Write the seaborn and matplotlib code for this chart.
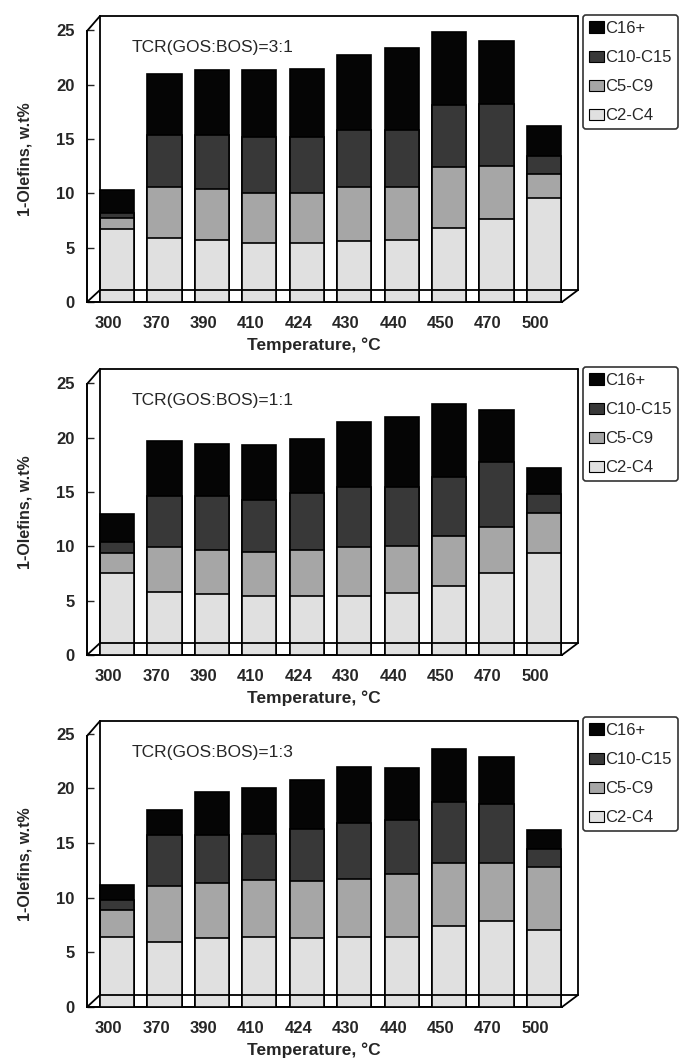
import matplotlib
matplotlib.use("Agg")
import matplotlib.pyplot as plt
import seaborn as sns
import numpy as np
from matplotlib.patches import Patch
from matplotlib.lines import Line2D

sns.set_style("white")
plt.rcParams['font.family'] = ['Liberation Sans', 'DejaVu Sans']

temps = ["300", "370", "390", "410", "424", "430", "440", "450", "470", "500"]
series_names = ["C16+", "C10-C15", "C5-C9", "C2-C4"]

# TCR(GOS:BOS)=3:1  (segment values, w.t%)
c2c4_31 = [6.7, 5.85, 5.7, 5.4, 5.4, 5.6, 5.7, 6.85, 7.65, 9.6]
c5c9_31 = [1.0, 4.7, 4.7, 4.6, 4.6, 5.0, 4.9, 5.55, 4.85, 2.2]
c10c15_31 = [0.5, 4.8, 4.95, 5.2, 5.2, 5.2, 5.2, 5.7, 5.7, 1.6]
c16_31 = [2.1, 5.65, 5.95, 6.1, 6.2, 6.9, 7.6, 6.7, 5.8, 2.8]

# TCR(GOS:BOS)=1:1
c2c4_11 = [7.5, 5.75, 5.6, 5.45, 5.45, 5.45, 5.7, 6.35, 7.5, 9.4]
c5c9_11 = [1.85, 4.15, 4.1, 4.0, 4.2, 4.45, 4.3, 4.6, 4.25, 3.7]
c10c15_11 = [1.05, 4.7, 4.9, 4.85, 5.25, 5.6, 5.5, 5.45, 6.05, 1.7]
c16_11 = [2.6, 5.1, 4.8, 5.0, 4.95, 5.9, 6.4, 6.7, 4.7, 2.4]

# TCR(GOS:BOS)=1:3
c2c4_13 = [6.4, 5.95, 6.3, 6.45, 6.3, 6.4, 6.45, 7.45, 7.9, 7.05]
c5c9_13 = [2.45, 5.15, 5.05, 5.15, 5.2, 5.35, 5.7, 5.75, 5.3, 5.75]
c10c15_13 = [0.9, 4.6, 4.35, 4.25, 4.8, 5.05, 4.95, 5.55, 5.4, 1.7]
c16_13 = [1.45, 2.35, 4.0, 4.2, 4.5, 5.15, 4.8, 4.85, 4.3, 1.65]

labels = ["TCR(GOS:BOS)=3:1", "TCR(GOS:BOS)=1:1", "TCR(GOS:BOS)=1:3"]
panels = [
    (c2c4_31, c5c9_31, c10c15_31, c16_31),
    (c2c4_11, c5c9_11, c10c15_11, c16_11),
    (c2c4_13, c5c9_13, c10c15_13, c16_13),
]

colors = {"C16+": "#050505", "C10-C15": "#383838", "C5-C9": "#a6a6a6", "C2-C4": "#e0e0e0"}

W, H = 685, 1059
fig = plt.figure(figsize=(W / 100, H / 100), dpi=100)

# pixel geometry for each panel: (y of zero, pixel per unit, legend top)
geo = [(302, 10.87, 15), (655, 10.87, 367), (1007, 10.93, 717)]
left_px, right_px = 87, 562
wall_l, wall_r = 100, 578
dy = 12
AX_H = 286


def fx(px):
    return px / W


def fy(py):
    return 1 - py / H


for i, ((a, b, c, d), (y0, ppu, legtop)) in enumerate(zip(panels, geo)):
    top_px = y0 - AX_H
    ax = fig.add_axes([left_px / W, 1 - y0 / H, (right_px - left_px) / W, AX_H / H])
    ax.set_facecolor("none")
    s1 = np.array(a)
    s2 = s1 + np.array(b)
    s3 = s2 + np.array(c)
    s4 = s3 + np.array(d)
    for vals, name in [(s4, "C16+"), (s3, "C10-C15"), (s2, "C5-C9"), (s1, "C2-C4")]:
        sns.barplot(x=temps, y=vals, order=temps, color=colors[name], saturation=1,
                    width=0.72, edgecolor="black", linewidth=1.2, errorbar=None, ax=ax, zorder=3)
    ax.set_ylim(0, AX_H / ppu)
    ax.set_xlim(-0.634, 9.38)
    ax.set_yticks([0, 5, 10, 15, 20, 25])
    ax.set_yticklabels(["0", "5", "10", "15", "20", "25"])
    ax.set_xticks(np.arange(len(temps)) - 0.18)
    ax.set_xticklabels(temps)
    ax.tick_params(axis="both", labelsize=12, length=5, direction="in", width=1)
    ax.tick_params(axis="y", left=True, pad=9)
    ax.tick_params(axis="x", bottom=True, length=3, pad=10)
    for lab in ax.get_xticklabels() + ax.get_yticklabels():
        lab.set_fontweight("bold")
    for sp in ["top", "right"]:
        ax.spines[sp].set_visible(False)
    ax.spines["left"].set_bounds(0, 271 / ppu)
    for sp in ["left", "bottom"]:
        ax.spines[sp].set_linewidth(1.4)
        ax.spines[sp].set_color("black")
    ax.set_xlabel("Temperature, °C", fontsize=12.5, fontweight="bold")
    ax.xaxis.set_label_coords(0.478, -0.125)
    ax.set_ylabel("1-Olefins, w.t%", fontsize=11.5, fontweight="bold")
    ax.yaxis.set_label_coords(-0.115, 0.5)

    # 3D-like back wall and floor drawn in figure pixel space
    wall_t, wall_b = top_px, y0 - dy
    segs = [
        [(wall_l, wall_t), (wall_r, wall_t)],
        [(wall_r, wall_t), (wall_r, wall_b)],
        [(wall_l, wall_t), (wall_l, wall_b)],
        [(wall_l, wall_b), (wall_r, wall_b)],
        [(left_px, y0), (wall_l, wall_b)],
        [(right_px, y0), (wall_r, wall_b)],
        [(left_px, y0 - 271), (wall_l, wall_t)],
    ]
    for sgm in segs:
        fig.add_artist(Line2D([fx(sgm[0][0]), fx(sgm[1][0])], [fy(sgm[0][1]), fy(sgm[1][1])],
                              color="black", lw=1.3, zorder=1))

    ax.text(0.095, 0.89, labels[i], transform=ax.transAxes, fontsize=12.5, ha="left", va="center")

    handles = [Patch(facecolor=colors[n], edgecolor="black", linewidth=0.8) for n in series_names]
    leg = ax.legend(handles, series_names, loc="upper left",
                    bbox_to_anchor=(583 / W, 1 - legtop / H), bbox_transform=fig.transFigure,
                    fontsize=12, frameon=True, fancybox=True, edgecolor="black",
                    handlelength=0.9, handleheight=0.65, handletextpad=0.1,
                    borderpad=0.35, labelspacing=0.85, borderaxespad=0)
    leg.get_frame().set_linewidth(1.2)

fig.savefig("out.png", dpi=100, facecolor="white")
